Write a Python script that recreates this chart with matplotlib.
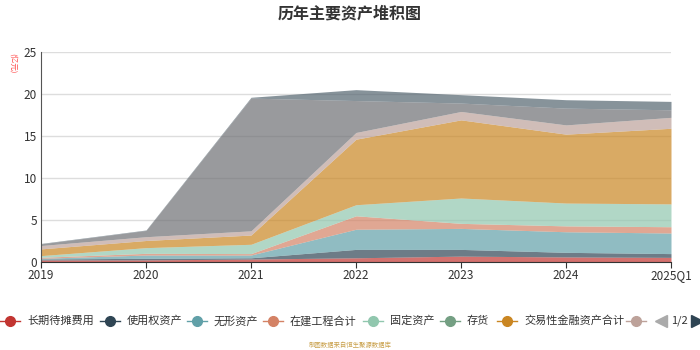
import numpy as np
import matplotlib
matplotlib.use("Agg")
import matplotlib.pyplot as plt
from matplotlib.lines import Line2D

plt.rcParams['font.family'] = ['Noto Sans CJK SC', 'DejaVu Sans']

# %% data (亿元), bottom to top of the stack
years = ["2019", "2020", "2021", "2022", "2023", "2024", "2025Q1"]
names = ["长期待摊费用", "使用权资产", "无形资产", "在建工程合计", "固定资产",
         "存货", "交易性金融资产合计", "其他资产", "货币资金", "其他"]
s_dtfy = [0.24, 0.25, 0.35, 0.50, 0.70, 0.60, 0.55]
s_syq = [0.12, 0.19, 0.15, 1.00, 0.80, 0.55, 0.45]
s_wx = [0.08, 0.39, 0.33, 2.40, 2.50, 2.45, 2.45]
s_zj = [0.12, 0.20, 0.17, 1.60, 0.60, 0.70, 0.75]
s_gd = [0.19, 0.67, 1.10, 1.30, 3.00, 2.70, 2.70]
s_ch = [0.01, 0.01, 0.01, 0.02, 0.02, 0.02, 0.02]
s_jyx = [0.80, 0.85, 1.10, 7.80, 9.30, 8.20, 9.00]
s_other = [0.40, 0.45, 0.50, 0.80, 1.00, 1.10, 1.30]
s_hb = [0.20, 0.75, 15.80, 3.80, 1.00, 2.00, 0.90]
s_top = [0.05, 0.05, 0.10, 1.30, 1.00, 1.00, 1.00]
series = [s_dtfy, s_syq, s_wx, s_zj, s_gd, s_ch, s_jyx, s_other, s_hb, s_top]
colors = ['#c23531', '#2f4554', '#61a0a8', '#d48265', '#91c7ae', '#749f83',
          '#ca8622', '#bda29a', '#6e7074', '#546570']

# %%
fig = plt.figure(figsize=(7, 3.5), dpi=100)
ax = fig.add_axes([41/700, 88/350, 630/700, 210/350])

x = np.arange(len(years))
base = np.zeros(len(years))
for vals, c in zip(series, colors):
    top = base + np.array(vals)
    ax.fill_between(x, base, top, color=c, alpha=0.7, lw=0)
    base = top

ax.set_xlim(0, len(years) - 1)
ax.set_ylim(0, 25)
ax.set_yticks([0, 5, 10, 15, 20, 25])
ax.set_xticks(x)
ax.set_xticklabels(years)
ax.grid(axis='y', color='#dddddd', lw=1)
ax.set_axisbelow(True)
for s in ['top', 'right']:
    ax.spines[s].set_visible(False)
ax.spines['left'].set_color('#555555')
ax.spines['bottom'].set_color('#333333')
ax.tick_params(axis='y', length=0, labelsize=8.5, labelcolor='#333333', pad=3)
ax.tick_params(axis='x', length=4, color='#333333', labelsize=8.5,
               labelcolor='#333333', pad=1)

fig.text(0.5, 0.963, "历年主要资产堆积图", ha='center', va='center',
         fontsize=11.5, fontweight='bold', color='#333333')
fig.text(13/700, 287/350, "(亿元)", ha='center', va='center', rotation=270,
         fontsize=5.5, color='#ff4d4d')

# %% legend row
leg_y = 1 - 321/350
marker_x = [10, 110, 197, 273, 373, 450, 507, 636]
for i, mx in enumerate(marker_x):
    c = colors[i]
    fig.add_artist(Line2D([(mx - 10)/700, (mx + 10)/700], [leg_y, leg_y],
                          color=c, lw=1, transform=fig.transFigure))
    fig.add_artist(Line2D([mx/700], [leg_y], marker='o', markersize=7,
                          color=c, transform=fig.transFigure))
    if i < 7:
        fig.text((mx + 17)/700, leg_y, names[i], ha='left', va='center',
                 fontsize=8, color='#333333')
fig.add_artist(Line2D([661/700], [leg_y], marker='<', markersize=8, color='#aaaaaa',
                      lw=0, transform=fig.transFigure))
fig.text(679/700, leg_y, "1/2", ha='center', va='center', fontsize=8, color='#333333')
fig.add_artist(Line2D([697/700], [leg_y], marker='>', markersize=8, color='#2f4554',
                      lw=0, transform=fig.transFigure))

fig.text(0.5, 1 - 345/350, "制图数据来自恒生聚源数据库", ha='center', va='center',
         fontsize=4.6, color='#c9a04a')

fig.savefig("out.png", dpi=100)
